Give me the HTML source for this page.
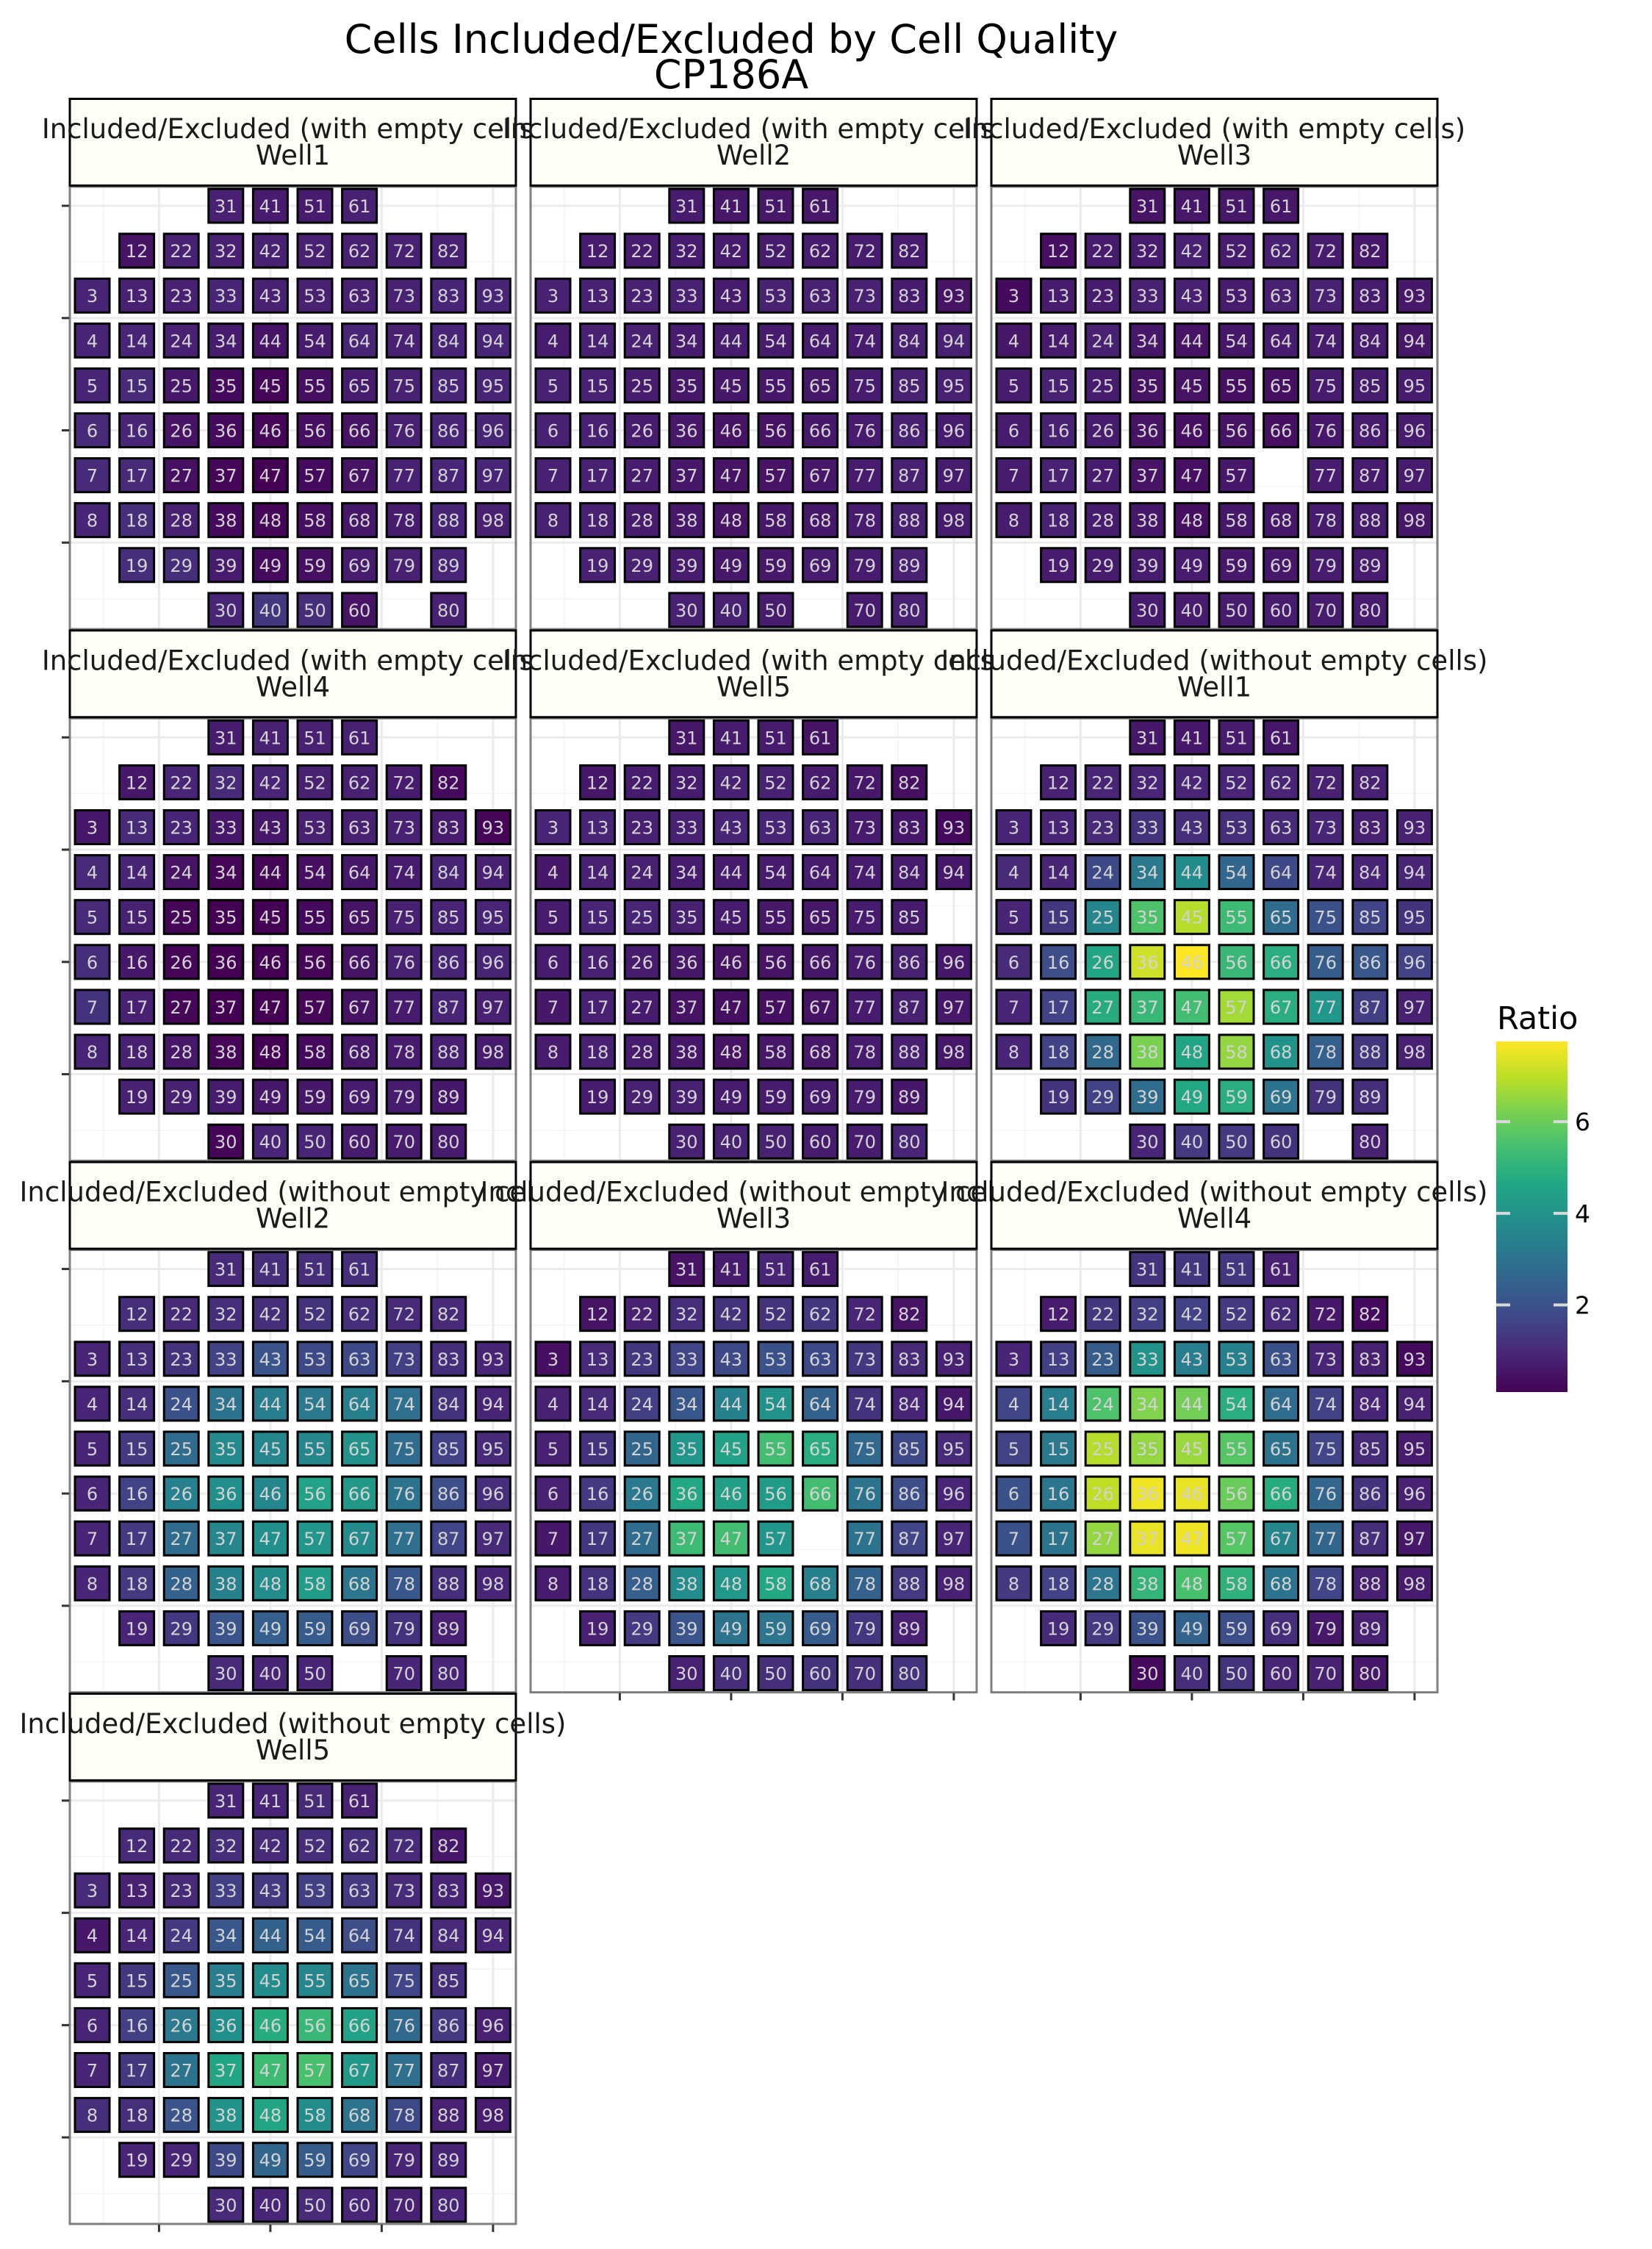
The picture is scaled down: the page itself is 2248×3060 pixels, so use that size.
<!DOCTYPE html>
<html><head><meta charset="utf-8">
<style>
html,body{margin:0;padding:0;background:#fff;}
svg{display:block;font-family:"DejaVu Sans","Liberation Sans",sans-serif;}
</style></head>
<body>
<svg id="chart" width="2248" height="3060" viewBox="0 0 2248 3060" xmlns="http://www.w3.org/2000/svg">
<rect x="0" y="0" width="2248" height="3060" fill="#ffffff"/>
<text x="995" y="72" font-size="54" text-anchor="middle" fill="#000">Cells Included/Excluded by Cell Quality</text>
<text x="995" y="120" font-size="54" text-anchor="middle" fill="#000">CP186A</text>
<g id="panels"></g>
<g id="legend"></g>
</svg>
<script>
// Well categories, row by row (row index = unit digit, column = tens digit)
const wells = [31,41,51,61, 12,22,32,42,52,62,72,82,
 3,13,23,33,43,53,63,73,83,93, 4,14,24,34,44,54,64,74,84,94,
 5,15,25,35,45,55,65,75,85,95, 6,16,26,36,46,56,66,76,86,96,
 7,17,27,37,47,57,67,77,87,97, 8,18,28,38,48,58,68,78,88,98,
 19,29,39,49,59,69,79,89, 30,40,50,60,70,80];

const panelTitles = [
 ["Included/Excluded (with empty cells)","Well1"],
 ["Included/Excluded (with empty cells)","Well2"],
 ["Included/Excluded (with empty cells)","Well3"],
 ["Included/Excluded (with empty cells)","Well4"],
 ["Included/Excluded (with empty cells)","Well5"],
 ["Included/Excluded (without empty cells)","Well1"],
 ["Included/Excluded (without empty cells)","Well2"],
 ["Included/Excluded (without empty cells)","Well3"],
 ["Included/Excluded (without empty cells)","Well4"],
 ["Included/Excluded (without empty cells)","Well5"]];

const withW1 = [.8,.7,.7,.8, .5,.8,.8,.8,.8,.8,.8,.8,
 .9,.8,.8,.9,.8,.8,.8,.8,.9,.9, .9,.9,.8,.7,.5,.7,.9,.8,.9,.9,
 .9,1.0,.6,.3,.2,.4,.7,.8,.9,.9, 1.0,.9,.5,.3,.2,.4,.5,.8,.9,.9,
 1.0,1.0,.4,.2,.1,.3,.5,.8,.9,.9, .9,1.1,.8,.3,.2,.4,.6,.7,.9,.8,
 1.1,1.1,.7,.3,.4,.7,.8,.9, .9,1.3,1.1,.5,null,.8];
const withW2 = [.7,.6,.6,.6, .7,.7,.7,.7,.7,.7,.7,.7,
 .8,.8,.8,.8,.7,.8,.8,.8,.7,.5, .7,.8,.8,.7,.7,.7,.7,.7,.8,.8,
 .8,.8,.7,.6,.6,.6,.6,.7,.8,.8, .8,.8,.7,.6,.5,.5,.6,.7,.8,.7,
 .8,.8,.7,.6,.5,.5,.6,.7,.8,.7, .8,.8,.7,.6,.5,.6,.6,.7,.8,.7,
 .8,.8,.7,.6,.6,.7,.7,.8, .8,.8,.7,null,.7,.8];
const withW3 = [.5,.6,.6,.6, .4,.7,.7,.8,.7,.8,.7,.6,
 .3,.7,.7,.8,.8,.7,.8,.8,.7,.6, .6,.7,.8,.6,.5,.6,.7,.7,.7,.6,
 .7,.8,.7,.5,.5,.4,.4,.7,.7,.7, .7,.8,.7,.5,.4,.5,.4,.6,.7,.7,
 .7,.8,.7,.5,.4,.6,null,.7,.7,.7, .7,.8,.7,.6,.4,.6,.6,.7,.7,.6,
 .7,.7,.7,.7,.6,.6,.7,.7, .7,.7,.7,.7,.7,.7];
const withW4 = [.7,.8,.8,.8, .6,.9,1.0,.9,.8,.8,.7,.3,
 .6,1.0,.9,.6,.6,.8,.8,.8,.7,.2, 1.0,.9,.5,.2,.2,.4,.6,.7,.9,.8,
 1.0,.8,.2,.1,.1,.3,.5,.8,.9,.9, 1.1,.6,.2,.1,.1,.2,.5,.8,.9,.9,
 1.2,.8,.2,.1,.1,.2,.5,.7,.9,.8, .9,.8,.6,.2,.1,.3,.6,.7,.8,.7,
 .8,.8,.7,.6,.6,.7,.7,.6, .2,.9,.9,.7,.7,.7];
const withW5 = [.6,.7,.7,.5, .6,.7,.7,.8,.8,.7,.6,.4,
 .9,.9,.8,.8,.9,.9,.9,.7,.6,.3, .6,.8,.8,.7,.7,.7,.7,.7,.7,.6,
 .7,.9,.9,.8,.7,.6,.6,.7,.7,null, .7,.8,.7,.6,.5,.5,.6,.7,.8,.6,
 .6,.8,.7,.5,.4,.4,.5,.7,.8,.6, .7,.8,.7,.6,.5,.6,.6,.7,.8,.6,
 .7,.8,.8,.7,.7,.7,.7,.6, .8,.8,.8,.7,.7,.9];
const withoutW1 = [.6,.6,.7,.6, .8,.9,.9,.9,.9,.9,.8,.8,
 .9,.9,1.0,1.2,1.1,1.1,1.0,.9,.8,.8, 1.0,.9,1.8,3.2,3.8,2.6,1.8,.9,.9,.9,
 .9,1.3,3.6,5.6,6.9,5.3,2.8,2.0,1.7,1.2, 1.0,1.9,4.6,7.2,7.75,5.2,4.9,2.3,2.2,1.6,
 .9,1.6,4.8,5.2,5.4,6.7,4.9,4.1,1.5,.8, .9,1.6,2.7,6.2,4.6,6.5,4.0,2.4,1.3,.8,
 1.2,1.6,2.8,4.7,4.9,3.0,1.2,1.1, .9,1.4,1.4,1.2,null,.8];
const withoutW2 = [1.0,1.1,1.1,1.1, 1.1,1.0,1.1,1.1,1.2,1.1,1.0,1.0,
 .9,1.1,1.2,1.6,2.1,1.8,1.8,1.5,1.1,.9, .9,1.1,2.0,3.0,3.3,3.2,3.4,2.9,1.2,.9,
 .9,1.4,2.8,3.7,3.6,3.6,4.0,2.8,1.6,1.0, .9,1.6,3.4,3.9,3.6,4.5,4.2,3.0,1.9,1.1,
 .9,1.4,2.8,3.6,3.9,4.1,3.8,2.9,1.7,1.0, .9,1.4,2.5,3.4,3.8,4.3,3.1,2.2,1.1,.9,
 .9,1.3,2.1,2.4,2.3,1.9,1.2,.8, 1.0,.9,.9,null,.9,.9];
const withoutW3 = [.5,.7,.9,.7, .5,.8,1.1,1.2,1.2,1.3,.9,.5,
 .4,1.0,1.3,1.7,1.8,2.0,1.8,1.3,1.0,.8, .8,1.0,1.5,2.2,3.4,4.0,2.5,1.2,.9,.6,
 .8,1.2,2.6,4.1,4.5,5.4,4.9,2.7,1.8,1.0, .8,1.4,3.2,4.7,4.4,4.3,5.4,3.0,1.9,.9,
 .6,1.3,2.8,5.3,5.4,4.1,null,3.0,1.7,.9, .7,1.2,2.4,3.8,4.1,4.7,3.4,2.5,1.4,.8,
 .8,1.4,2.1,3.0,3.1,2.3,1.3,.8, .8,1.1,1.1,1.2,1.1,1.2];
const withoutW4 = [1.2,1.3,1.3,.8, .7,1.3,1.5,1.6,1.4,1.0,.6,.3,
 .9,1.5,2.3,4.0,3.3,3.4,2.0,.9,.8,.3, 1.7,3.3,5.6,6.3,6.1,4.9,2.8,1.6,.9,.8,
 1.6,3.2,6.9,6.5,6.6,5.7,3.0,1.7,1.0,.7, 2.0,3.1,7.0,7.6,7.5,6.0,4.8,2.6,1.2,.8,
 2.0,3.0,6.5,7.5,7.6,5.7,3.6,2.6,1.1,.6, 1.4,1.6,3.1,5.1,5.5,5.0,3.0,1.7,.8,.7,
 1.0,1.4,2.0,2.5,1.9,1.1,.6,.8, .3,1.1,1.2,.9,.8,.6];
const withoutW5 = [.9,.9,1.0,.8, 1.0,1.0,1.1,1.0,1.1,1.1,1.0,.6,
 1.0,.8,1.0,1.5,1.4,1.5,1.4,1.0,.9,.6, .6,.9,1.4,2.2,2.5,2.3,1.9,1.2,1.0,.9,
 .9,1.3,2.2,3.3,3.8,3.6,3.0,1.7,1.1,null, .9,1.5,3.2,3.9,4.8,5.2,4.5,2.7,1.4,.8,
 .9,1.3,3.0,4.6,5.3,5.5,4.2,2.9,1.1,.7, 1.1,1.1,2.1,4.0,4.6,3.8,3.0,1.8,.8,.7,
 .9,.9,1.8,2.6,2.3,1.7,.9,.9, 1.0,.9,1.0,.9,.8,.9];

const panelValues = [withW1,withW2,withW3,withW4,withW5,withoutW1,withoutW2,withoutW3,withoutW4,withoutW5];
const legendTicks = [2,4,6];
const colorMin = 0.1, colorMax = 7.75;

const VIR = ["#440154","#482475","#414487","#355f8d","#2a788e","#21918c","#22a884","#44bf70","#7ad151","#bddf26","#fde725"];
function hex(h){return [parseInt(h.substr(1,2),16),parseInt(h.substr(3,2),16),parseInt(h.substr(5,2),16)];}
function viridis(t){t=Math.max(0,Math.min(1,t));const p=t*(VIR.length-1);const i=Math.min(VIR.length-2,Math.floor(p));const f=p-i;
 const a=hex(VIR[i]),b=hex(VIR[i+1]);return "rgb("+a.map((v,k)=>Math.round(v+(b[k]-v)*f)).join(",")+")";}
function color(v){return viridis((v-colorMin)/(colorMax-colorMin));}

const NS="http://www.w3.org/2000/svg";
function mk(tag,attrs,parent){const e=document.createElementNS(NS,tag);for(const k in attrs)e.setAttribute(k,attrs[k]);parent.appendChild(e);return e;}

const colLefts=[95,722,1349], PW=607, STRIP=121, PH=602, PITCH=723.3, TOP0=133;
const panelsG=document.getElementById('panels');
panelValues.forEach((vals,p)=>{
 const gr=Math.floor(p/3), gc=p%3;
 const L=colLefts[gc], ST=TOP0+gr*PITCH, PT=ST+STRIP;
 const xs=c=>L+30.5+c*60.6;
 const ys=r=>PT+26+(r-1)*61.1;
 const g=mk('g',{},panelsG);
 
 
 const bg=mk('rect',{x:L,y:PT,width:PW,height:PH,fill:'#fff'},g);
 
 
 [0.25,2.75,5.25,7.75].forEach(c=>{mk('line',{x1:xs(c),x2:xs(c),y1:PT,y2:PT+PH,stroke:'#f4f4f4','stroke-width':1.5},g);});
 [2.25,4.75,7.25,9.75].forEach(r=>{mk('line',{x1:L,x2:L+PW,y1:ys(r),y2:ys(r),stroke:'#f4f4f4','stroke-width':1.5},g);});
 [1.5,4,6.5,9].forEach(c=>{mk('line',{x1:xs(c),x2:xs(c),y1:PT,y2:PT+PH,stroke:'#ebebeb','stroke-width':3},g);});
 [1,3.5,6,8.5].forEach(r=>{mk('line',{x1:L,x2:L+PW,y1:ys(r),y2:ys(r),stroke:'#ebebeb','stroke-width':3},g);});
 wells.forEach((w,i)=>{
  const v=vals[i]; if(v===null||v===undefined) return;
  const c=Math.floor(w/10), r=(w%10)||10;
  const cx=xs(c), cy=ys(r);
  const t=mk('rect',{x:cx-23.5,y:cy-23,width:47,height:46,fill:color(v),stroke:'#000','stroke-width':3},g);
  
  
  const tx=mk('text',{x:cx,y:cy+9,'font-size':24,'text-anchor':'middle',fill:'#d3d3d3'},g);
  
  
  tx.textContent=w;
 });
 const border=mk('rect',{x:L,y:PT,width:PW,height:PH,fill:'none',stroke:'#7f7f7f','stroke-width':3},g);
 
 
 const sr=mk('rect',{x:L,y:ST+1.5,width:PW,height:STRIP-3,fill:'#fdfef5',stroke:'#000','stroke-width':3},g);
 
 
 const s1=mk('text',{x:L+PW/2,y:ST+55,'font-size':37,'text-anchor':'middle',fill:'#1a1a1a'},g);
 
 
 s1.textContent=panelTitles[p][0];
 const s2=mk('text',{x:L+PW/2,y:ST+91,'font-size':37,'text-anchor':'middle',fill:'#1a1a1a'},g);
 
 
 s2.textContent=panelTitles[p][1];
 if(gc===0){[1,3.5,6,8.5].forEach(r=>{const tk=mk('line',{x1:L-11,x2:L-1,y1:ys(r),y2:ys(r),stroke:'#333','stroke-width':3},g);
  
  });}
 if(p>=7){[1.5,4,6.5,9].forEach(c=>{const tk=mk('line',{x1:xs(c),x2:xs(c),y1:PT+PH+1,y2:PT+PH+11,stroke:'#333','stroke-width':3},g);
  
  });}
});

const lg=document.getElementById('legend');
const LX=2036, LW=97, LT=1417, LB=1894;
const ly=v=>LB-(v-colorMin)/(colorMax-colorMin)*(LB-LT);
const lt=mk('text',{x:2037,y:1400,'font-size':43,fill:'#000'},lg);


lt.textContent='Ratio';
const defs=mk('defs',{},lg);
const grad=mk('linearGradient',{id:'vg',x1:0,y1:1,x2:0,y2:0},defs);
for(let i=0;i<=20;i++){mk('stop',{offset:(i/20),'stop-color':viridis(i/20)},grad);}
const bar=mk('rect',{x:LX,y:LT,width:LW,height:LB-LT,fill:'url(#vg)'},lg);


legendTicks.forEach(v=>{
 mk('line',{x1:LX,x2:LX+19,y1:ly(v),y2:ly(v),stroke:'#d9d9d9','stroke-width':4},lg);
 mk('line',{x1:LX+LW-19,x2:LX+LW,y1:ly(v),y2:ly(v),stroke:'#d9d9d9','stroke-width':4},lg);
 const t=mk('text',{x:2143,y:ly(v)+12,'font-size':33,fill:'#000'},lg);
 
 
 t.textContent=v;
});
</script>
</body></html>
